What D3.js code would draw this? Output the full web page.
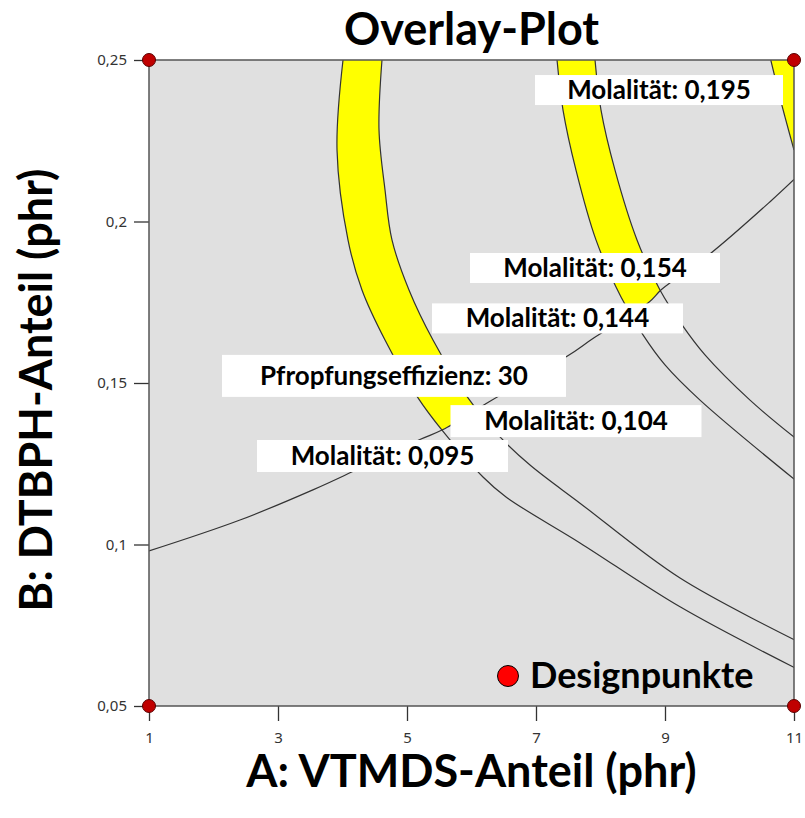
<!DOCTYPE html>
<html>
<head>
<meta charset="utf-8">
<script src="https://cdn.jsdelivr.net/npm/d3@7"></script>
<style>
body { margin: 0; background: #fff; }
</style>
</head>
<body>
<script>
var w = 805;
var h = 818;
var margin = {top: 60, right: 11, bottom: 112, left: 149};
var pw = w - margin.left - margin.right;
var ph = h - margin.top - margin.bottom;

// axis ticks
var xTicks = [1, 3, 5, 7, 9, 11];
var yTicks = [0.05, 0.1, 0.15, 0.2, 0.25];

// contour lines, [A, B]
var pfropf30 = [[1, 0.098], [2.4, 0.1075], [3.55, 0.117], [4.15, 0.1225], [5.2, 0.1325], [5.55, 0.1355],
    [6.3, 0.1445], [7.5, 0.1585], [7.9, 0.164], [8.75, 0.175], [8.95, 0.179], [9.7, 0.19], [10.65, 0.2065], [11, 0.213]];
var mol095 = [[4.008, 0.25], [3.915, 0.2221], [4.085, 0.1943], [4.302, 0.1788], [4.659, 0.1633], [5.171, 0.1454],
    [5.543, 0.1354], [6.178, 0.1209], [6.535, 0.1147], [7.682, 0.1005], [9.233, 0.0807], [11.016, 0.0618]];
var mol104 = [[4.612, 0.25], [4.566, 0.2283], [4.659, 0.2098], [4.767, 0.1943], [5.031, 0.1788], [5.403, 0.1633],
    [5.946, 0.1454], [6.442, 0.1333], [6.907, 0.1246], [7.682, 0.1128], [9.233, 0.0896], [11.016, 0.0704]];
var mol144 = [[7.326, 0.25], [7.419, 0.2345], [7.62, 0.2159], [7.93, 0.1943], [8.318, 0.1766], [8.659, 0.1649],
    [9.0, 0.1556], [9.543, 0.1447], [11.016, 0.12]];
var mol154 = [[7.915, 0.25], [8.008, 0.2345], [8.225, 0.2159], [8.566, 0.1943], [8.922, 0.1788], [9.264, 0.168],
    [9.62, 0.1587], [10.318, 0.1447], [11.016, 0.133]];
var mol195 = [[10.64, 0.25], [10.78, 0.2385], [10.86, 0.2324], [11, 0.2221]];

// design points
var designA = [1, 1, 11, 11];
var designB = [0.05, 0.25, 0.05, 0.25];

// contour label texts
var labelTexts = ["Molalität: 0,195", "Molalität: 0,154", "Molalität: 0,144",
    "Pfropfungseffizienz: 30", "Molalität: 0,104", "Molalität: 0,095"];

// where the label boxes sit (data units) and their size (px)
var labelLayout = [
    {a: 8.907, b: 0.2407, bw: 248, bh: 30},
    {a: 7.915, b: 0.1856, bw: 250, bh: 30},
    {a: 7.333, b: 0.1700, bw: 251, bh: 30},
    {a: 4.798, b: 0.1522, bw: 344, bh: 42},
    {a: 7.620, b: 0.1382, bw: 251, bh: 32},
    {a: 4.620, b: 0.1274, bw: 251, bh: 32}
];

var svg = d3.select("body").append("svg").attr("width", w).attr("height", h);
var defs = svg.append("defs");

var x = d3.scaleLinear().domain([1, 11]).range([0, pw]);
var y = d3.scaleLinear().domain([0.05, 0.25]).range([ph, 0]);

var g = svg.append("g").attr("transform", "translate(" + margin.left + "," + margin.top + ")");

defs.append("clipPath").attr("id", "plotclip")
    .append("rect").attr("width", pw).attr("height", ph);

g.append("rect").attr("width", pw).attr("height", ph).attr("fill", "#e0e0e0");

var line = d3.line()
    .x(d => x(d[0]))
    .y(d => y(d[1]))
    .curve(d3.curveCatmullRom.alpha(0.5));

// region where Pfropfungseffizienz >= 30 (above the line)
var x0 = x.domain()[0], x1 = x.domain()[1], yTop = y.domain()[1];
var feasible = line(pfropf30) + line([[x1, yTop], [x0, yTop]]).replace(/^M/, "L") + "Z";
defs.append("clipPath").attr("id", "feasclip")
    .append("path").attr("d", feasible);

function band(lo, hi) {
    return line(lo) + line(hi.slice().reverse()).replace(/^M/, "L") + "Z";
}

var yellow = g.append("g").attr("clip-path", "url(#plotclip)")
    .append("g").attr("clip-path", "url(#feasclip)");
yellow.selectAll("path")
    .data([band(mol095, mol104), band(mol144, mol154),
        line(mol195) + "L" + x(x1) + "," + y(yTop) + "Z"])
    .enter().append("path")
    .attr("d", d => d)
    .attr("fill", "#ffff00");

g.append("g").attr("clip-path", "url(#plotclip)")
    .selectAll("path")
    .data([pfropf30, mol095, mol104, mol144, mol154, mol195])
    .enter().append("path")
    .attr("d", line)
    .attr("fill", "none")
    .attr("stroke", "#333")
    .attr("stroke-width", 1.2);

// label boxes
var lab = g.selectAll(".lab")
    .data(labelTexts)
    .enter().append("g")
    .attr("class", "lab")
    .attr("transform", (d, i) => "translate(" + x(labelLayout[i].a) + "," + y(labelLayout[i].b) + ")");
lab.append("rect")
    .attr("x", (d, i) => -labelLayout[i].bw / 2)
    .attr("y", (d, i) => -labelLayout[i].bh / 2)
    .attr("width", (d, i) => labelLayout[i].bw)
    .attr("height", (d, i) => labelLayout[i].bh)
    .attr("fill", "#fff");
lab.append("text")
    .text(d => d)
    .attr("text-anchor", "middle")
    .attr("y", 9)
    .attr("font-family", "Lato, sans-serif")
    .attr("font-weight", "bold")
    .attr("font-size", "26px")
    .attr("fill", "#000");

// axes
var fmt = d => String(d).replace(".", ",");
var xAxis = d3.axisBottom(x).tickValues(xTicks).tickFormat(fmt).tickSize(15).tickPadding(11);
var yAxis = d3.axisLeft(y).tickValues(yTicks).tickFormat(fmt).tickSize(15).tickPadding(7);

var gx = g.append("g").attr("transform", "translate(0," + ph + ")").call(xAxis);
var gy = g.append("g").call(yAxis);
[gx, gy].forEach(a => {
    a.select(".domain").remove();
    a.selectAll("line").attr("stroke", "#333").attr("stroke-width", 1.3);
    a.selectAll("text").attr("font-family", "'Noto Sans', sans-serif").attr("font-size", "15px").attr("fill", "#333");
});

g.append("rect").attr("width", pw).attr("height", ph)
    .attr("fill", "none").attr("stroke", "#555").attr("stroke-width", 1.5);

// design points
g.selectAll(".dp")
    .data(designA)
    .enter().append("circle")
    .attr("class", "dp")
    .attr("cx", d => x(d))
    .attr("cy", (d, i) => y(designB[i]))
    .attr("r", 6.5)
    .attr("fill", "#c00000")
    .attr("stroke", "#5a0000")
    .attr("stroke-width", 1);

// legend
g.append("circle").attr("cx", 359).attr("cy", 616).attr("r", 10.5)
    .attr("fill", "#ff0000").attr("stroke", "#000").attr("stroke-width", 1);
g.append("text").text("Designpunkte").attr("x", 381).attr("y", 628)
    .attr("font-family", "Lato, sans-serif").attr("font-weight", "bold").attr("font-size", "36px");

// titles
svg.append("text").text("Overlay-Plot")
    .attr("x", margin.left + pw / 2).attr("y", 45)
    .attr("text-anchor", "middle")
    .attr("font-family", "Lato, sans-serif").attr("font-weight", "bold").attr("font-size", "45px");

svg.append("text").text("A: VTMDS-Anteil (phr)")
    .attr("x", margin.left + pw / 2).attr("y", 787)
    .attr("text-anchor", "middle")
    .attr("font-family", "Lato, sans-serif").attr("font-weight", "bold").attr("font-size", "45px");

svg.append("text").text("B: DTBPH-Anteil (phr)")
    .attr("transform", "translate(52,390) rotate(-90)")
    .attr("text-anchor", "middle")
    .attr("font-family", "Lato, sans-serif").attr("font-weight", "bold").attr("font-size", "45px");
</script>
</body>
</html>
